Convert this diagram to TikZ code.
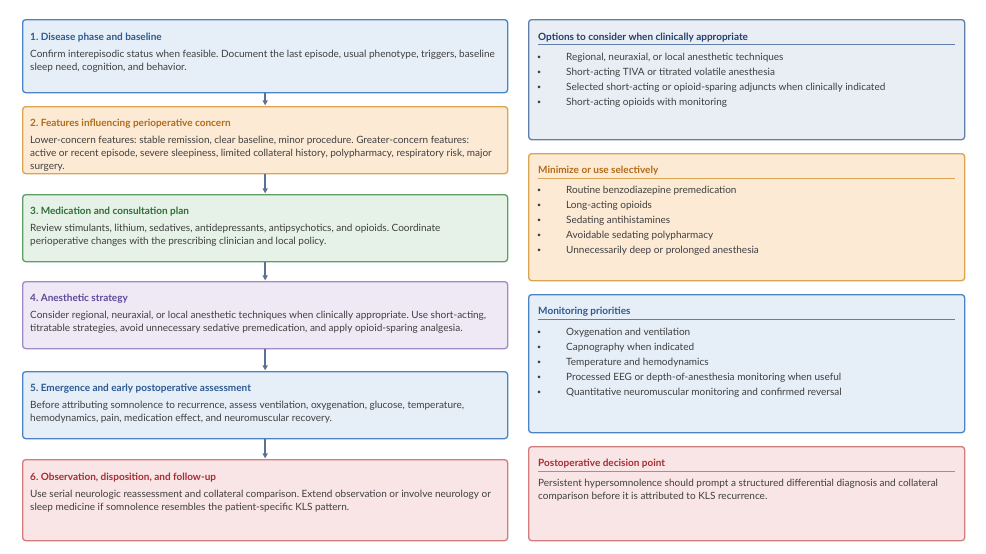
\documentclass[tikz,border=0pt]{standalone}
\usepackage{fontspec}
\setmainfont{Lato}
\usetikzlibrary{arrows.meta, positioning}
\frenchspacing

\definecolor{txtgray}{HTML}{3F3F3F}
\definecolor{bluefill}{HTML}{E6EEF7}
\definecolor{blueline}{HTML}{4A84C4}
\definecolor{bluetitle}{HTML}{2C5A92}
\definecolor{navyfill}{HTML}{E9EEF5}
\definecolor{navyline}{HTML}{5F7FAA}
\definecolor{navytitle}{HTML}{223F6E}
\definecolor{orangefill}{HTML}{FCEAD5}
\definecolor{orangeline}{HTML}{DBA450}
\definecolor{orangetitle}{HTML}{B26B16}
\definecolor{greenfill}{HTML}{E6F1E7}
\definecolor{greenline}{HTML}{5E9E63}
\definecolor{greentitle}{HTML}{2F6F36}
\definecolor{purplefill}{HTML}{EFE9F6}
\definecolor{purpleline}{HTML}{9E8BC8}
\definecolor{purpletitle}{HTML}{5D4A98}
\definecolor{redfill}{HTML}{F9E5E5}
\definecolor{redline}{HTML}{D27C7E}
\definecolor{redtitle}{HTML}{A92C33}
\definecolor{arrowgray}{HTML}{5B7092}

\tikzset{
  box/.style={draw, rounded corners=3pt, line width=1.3pt, anchor=north west, inner sep=0pt},
  leftbox/.style={box, minimum width=485pt},
  rightbox/.style={box, minimum width=436pt},
  title/.style={anchor=base west, inner sep=0pt, font=\fontsize{10}{13}\selectfont\bfseries},
  body/.style={anchor=base west, inner sep=0pt, align=left, text=txtgray, font=\fontsize{10}{13}\selectfont},
  list/.style={anchor=base west, inner sep=0pt, text=txtgray, font=\fontsize{10}{15}\selectfont},
  flow/.style={-{Triangle[length=5pt,width=5pt]}, line width=1.4pt, arrowgray, shorten >=0.6pt}
}

\newcommand{\pts}[1]{\begin{tabular}[t]{@{}p{29pt}@{}l@{}}#1\end{tabular}}
\newcommand{\bul}{\raisebox{1.5pt}{\fontsize{7}{7}\selectfont\textbullet}}

\begin{document}
\begin{tikzpicture}[x=1pt,y=-1pt]
\useasboundingbox (0,0) rectangle (986,554);

% left column (body nodes sit on the baseline of their last line)
\node[leftbox, fill=bluefill, draw=blueline, minimum height=73pt] (b1) at (22,19) {};
\node[title, text=bluetitle] (t1) at (30,40.5) {1. Disease phase and baseline};
\node[body] (x1) at (30,70.5) {Confirm interepisodic status when feasible. Document the last episode, usual phenotype, triggers, baseline\\sleep need, cognition, and behavior.};

\node[leftbox, fill=orangefill, draw=orangeline, minimum height=67pt] (b2) at (22,106) {};
\node[title, text=orangetitle] (t2) at (30,126.5) {2. Features influencing perioperative concern};
\node[body] (x2) at (30,169.5) {Lower-concern features: stable remission, clear baseline, minor procedure. Greater-concern features:\\active or recent episode, severe sleepiness, limited collateral history, polypharmacy, respiratory risk, major\\surgery.};

\node[leftbox, fill=greenfill, draw=greenline, minimum height=67pt] (b3) at (22,194) {};
\node[title, text=greentitle] (t3) at (30,214.5) {3. Medication and consultation plan};
\node[body] (x3) at (30,244.5) {Review stimulants, lithium, sedatives, antidepressants, antipsychotics, and opioids. Coordinate\\perioperative changes with the prescribing clinician and local policy.};

\node[leftbox, fill=purplefill, draw=purpleline, minimum height=67pt] (b4) at (22,281) {};
\node[title, text=purpletitle] (t4) at (30,301.5) {4. Anesthetic strategy};
\node[body] (x4) at (30,331.5) {Consider regional, neuraxial, or local anesthetic techniques when clinically appropriate. Use short-acting,\\titratable strategies, avoid unnecessary sedative premedication, and apply opioid-sparing analgesia.};

\node[leftbox, fill=bluefill, draw=blueline, minimum height=67pt] (b5) at (22,371) {};
\node[title, text=bluetitle] (t5) at (30,391.5) {5. Emergence and early postoperative assessment};
\node[body] (x5) at (30,421.5) {Before attributing somnolence to recurrence, assess ventilation, oxygenation, glucose, temperature,\\hemodynamics, pain, medication effect, and neuromuscular recovery.};

\node[leftbox, fill=redfill, draw=redline, minimum height=81pt] (b6) at (22,459) {};
\node[title, text=redtitle] (t6) at (30,480.5) {6. Observation, disposition, and follow-up};
\node[body] (x6) at (30,510.5) {Use serial neurologic reassessment and collateral comparison. Extend observation or involve neurology or\\sleep medicine if somnolence resembles the patient-specific KLS pattern.};

\draw[flow] (b1.south) -- (b2.north);
\draw[flow] (b2.south) -- (b3.north);
\draw[flow] (b3.south) -- (b4.north);
\draw[flow] (b4.south) -- (b5.north);
\draw[flow] (b5.south) -- (b6.north);

% right column
\node[rightbox, fill=navyfill, draw=navyline, minimum height=120pt] (r1) at (528,19) {};
\node[title, text=navytitle] (s1) at (538,40.5) {Options to consider when clinically appropriate};
\draw[navyline, line width=0.8pt] (538,44) -- (955,44);
\node[list] (l1) at (537,60.5) {\pts{\bul & Regional, neuraxial, or local anesthetic techniques\\
\bul & Short-acting TIVA or titrated volatile anesthesia\\
\bul & Selected short-acting or opioid-sparing adjuncts when clinically indicated\\
\bul & Short-acting opioids with monitoring}};

\node[rightbox, fill=orangefill, draw=orangeline, minimum height=127pt] (r2) at (528,153) {};
\node[title, text=orangetitle] (s2) at (538,173.5) {Minimize or use selectively};
\draw[orangeline, line width=0.8pt] (538,178) -- (955,178);
\node[list] (l2) at (537,193.5) {\pts{\bul & Routine benzodiazepine premedication\\
\bul & Long-acting opioids\\
\bul & Sedating antihistamines\\
\bul & Avoidable sedating polypharmacy\\
\bul & Unnecessarily deep or prolonged anesthesia}};

\node[rightbox, fill=bluefill, draw=blueline, minimum height=138pt] (r3) at (528,294) {};
\node[title, text=bluetitle] (s3) at (538,314.5) {Monitoring priorities};
\draw[blueline, line width=0.8pt] (538,319) -- (955,319);
\node[list] (l3) at (537,335.5) {\pts{\bul & Oxygenation and ventilation\\
\bul & Capnography when indicated\\
\bul & Temperature and hemodynamics\\
\bul & Processed EEG or depth-of-anesthesia monitoring when useful\\
\bul & Quantitative neuromuscular monitoring and confirmed reversal}};

\node[rightbox, fill=redfill, draw=redline, minimum height=94pt] (r4) at (528,446) {};
\node[title, text=redtitle] (s4) at (538,466.5) {Postoperative decision point};
\draw[redline, line width=0.8pt] (538,471) -- (955,471);
\node[body] (l4) at (538,499.5) {Persistent hypersomnolence should prompt a structured differential diagnosis and collateral\\comparison before it is attributed to KLS recurrence.};
\end{tikzpicture}
\end{document}
